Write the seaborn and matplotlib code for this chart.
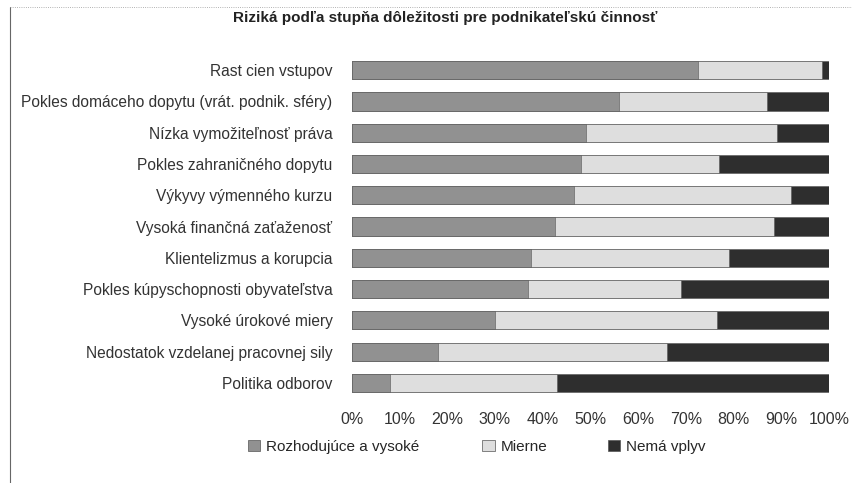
import matplotlib
matplotlib.use("Agg")
import matplotlib.pyplot as plt
import matplotlib.patches as mpatches
import seaborn as sns
import pandas as pd

# rizika, zhora nadol ako v grafe
rizika = [
    "Rast cien vstupov",
    "Pokles domáceho dopytu (vrát. podnik. sféry)",
    "Nízka vymožiteľnosť práva",
    "Pokles zahraničného dopytu",
    "Výkyvy výmenného kurzu",
    "Vysoká finančná zaťaženosť",
    "Klientelizmus a korupcia",
    "Pokles kúpyschopnosti obyvateľstva",
    "Vysoké úrokové miery",
    "Nedostatok vzdelanej pracovnej sily",
    "Politika odborov",
]
vysoke = [72.5, 56, 49, 48, 46.5, 42.5, 37.5, 37, 30, 18, 8]
mierne = [26, 31, 40, 29, 45.5, 46, 41.5, 32, 46.5, 48, 35]
nema = [1.5, 13, 11, 23, 8, 11.5, 21, 31, 23.5, 34, 57]

serie = ["Rozhodujúce a vysoké", "Mierne", "Nemá vplyv"]
farby = ["#919191", "#dedede", "#2e2e2e"]

df = pd.DataFrame({"riziko": rizika, "vysoke": vysoke,
                   "mierne": mierne, "nema": nema})
df["c1"] = df["vysoke"]
df["c2"] = df["vysoke"] + df["mierne"]
df["c3"] = df["c2"] + df["nema"]

sns.set_theme(style="white")
plt.rcParams['font.family'] = ['Liberation Sans', 'DejaVu Sans']

fig = plt.figure(figsize=(8.52, 4.83), dpi=100)
ax = fig.add_axes([0.413, 0.175, 0.560, 0.712])

# kumulativne, najdlhsie najprv
for col, farba in zip(["c3", "c2", "c1"], farby[::-1]):
    sns.barplot(data=df, x=col, y="riziko", orient="h", color=farba,
                width=0.58, edgecolor="#555555", linewidth=0.4,
                saturation=1, ax=ax)

ax.set_xlim(0, 100)
ax.set_xticks(range(0, 101, 10))
ax.set_xticklabels([f"{v}%" for v in range(0, 101, 10)], fontsize=11.5, color="#333333")
ax.tick_params(axis="y", labelsize=11.2, labelcolor="#333333", length=0, pad=14)
ax.tick_params(axis="x", length=0, pad=10)
ax.set_xlabel("")
ax.set_ylabel("")
for s in ax.spines.values():
    s.set_visible(False)

fig.text(0.522, 0.962, "Riziká podľa stupňa dôležitosti pre podnikateľskú činnosť",
         ha="center", va="center", fontsize=11, fontweight="bold", color="#222222")

# legenda - tri polozky na pevnych miestach
for f, s, x in zip(farby, serie, [0.275, 0.550, 0.697]):
    h = mpatches.Patch(facecolor=f, edgecolor="#555555", linewidth=0.5, label=s)
    fig.legend(handles=[h], loc="center left", bbox_to_anchor=(x, 0.075),
               frameon=False, fontsize=11, handlelength=0.8, handleheight=0.8,
               handletextpad=0.4)

# ram okolo grafu
fig.add_artist(plt.Line2D([0.012, 0.012], [0, 0.985], color="#666666", lw=0.8))
fig.add_artist(plt.Line2D([0.012, 1], [0.985, 0.985], color="#999999", lw=0.6, ls=":"))

fig.savefig("out.png", dpi=100)
